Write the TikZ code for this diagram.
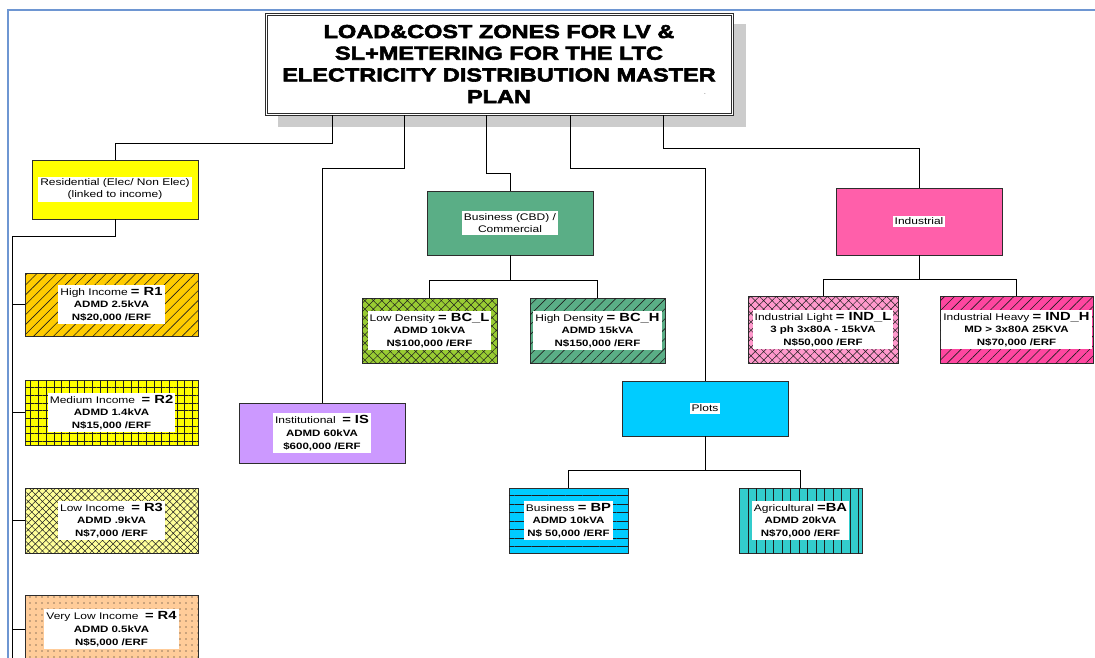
\documentclass[tikz,border=0pt]{standalone}
\usepackage{fontspec}
\setmainfont{Liberation Sans}[FakeStretch=1.25]
\newfontfamily\titlefont{Liberation Sans Bold}[FakeStretch=1.25,FakeBold=3]
\usetikzlibrary{patterns.meta}

\definecolor{frameblue}{RGB}{110,150,210}
\definecolor{boxline}{RGB}{45,45,45}
\definecolor{hatchline}{RGB}{30,30,30}
\definecolor{shadowgray}{RGB}{204,204,204}
\definecolor{resyellow}{RGB}{255,255,0}
\definecolor{highorange}{RGB}{255,204,0}
\definecolor{lowyellow}{RGB}{255,255,153}
\definecolor{vlowpeach}{RGB}{255,204,153}
\definecolor{instpurple}{RGB}{204,153,255}
\definecolor{busgreen}{RGB}{90,174,134}
\definecolor{limegreen}{RGB}{153,204,51}
\definecolor{plotcyan}{RGB}{0,204,255}
\definecolor{agriteal}{RGB}{51,204,204}
\definecolor{indpink}{RGB}{255,95,170}
\definecolor{lightpink}{RGB}{255,153,204}
\definecolor{heavypink}{RGB}{255,70,160}

\newcommand{\zhead}[2]{{\mdseries\fontsize{9.6}{12}\selectfont #1} {\fontsize{11.8}{12}\selectfont #2}}

\tikzset{
  zone/.style 2 args={draw=boxline, line width=0.9pt, inner sep=0pt,
    minimum width=#1pt, minimum height=#2pt},
  tag/.style={fill=white, inner sep=2pt, align=center,
    font=\bfseries\fontsize{9.2}{12.8}\selectfont},
  plain tag/.style={fill=white, inner sep=2pt, align=center,
    font=\fontsize{9.6}{12}\selectfont},
  link/.style={draw=black, line width=0.8pt},
  lines/.style={postaction={pattern={Lines[angle=#1,distance=7pt,line width=0.6pt]}, pattern color=hatchline}},
  fine lines/.style={postaction={pattern={Lines[angle=#1,distance=8.5pt,line width=0.9pt]}, pattern color=hatchline}},
  cross/.style={postaction={pattern={Hatch[angle=45,distance=#1,line width=0.5pt]}, pattern color=hatchline}},
  grid/.style={postaction={pattern={Hatch[angle=0,distance=7.7pt,line width=0.8pt]}, pattern color=hatchline}},
  dots/.style={postaction={pattern={Dots[distance=6pt,radius=0.55pt]}, pattern color=hatchline}}
}

\begin{document}
\begin{tikzpicture}[x=1pt,y=-1pt]
  \useasboundingbox (0,0) rectangle (1095,657);
  % outer frame
  \draw[frameblue, line width=1.5pt] (8,700) |- (1110,10);

  % title with its shadow and double frame
  \fill[shadowgray] (278,24) rectangle (746,127);
  \node[draw=boxline, line width=0.8pt, fill=white,
    minimum width=468pt, minimum height=102pt, inner sep=0pt, align=center,
    font=\titlefont\fontsize{18.8}{21.7}\selectfont] (title) at (499,64)
    {LOAD\&COST ZONES FOR LV \&\\SL+METERING FOR THE LTC\\ELECTRICITY DISTRIBUTION MASTER\\PLAN};
  \draw[boxline, line width=0.8pt] ([shift={(2.4pt,2.4pt)}]title.south west) rectangle ([shift={(-2.4pt,-2.4pt)}]title.north east);
  \node[font=\tiny] (dot) at (705,94) {.};

  % residential branch
  \node[zone={166}{59}, fill=resyellow] (res) at (115,189.5) {};
  \node[plain tag] (res-t) at (res) {Residential (Elec/ Non Elec)\\(linked to income)};
  \node[zone={173}{63}, fill=highorange, lines=45] (r1) at (111.5,304.5) {};
  \node[tag] (r1-t) at (r1) {\zhead{High Income}{= R1}\\ADMD 2.5kVA\\N\$20,000 /ERF};
  \node[zone={173}{65}, fill=resyellow, grid] (r2) at (111.5,412.5) {};
  \node[tag] (r2-t) at (r2) {\zhead{Medium Income\ }{= R2}\\ADMD 1.4kVA\\N\$15,000 /ERF};
  \node[zone={173}{65}, fill=lowyellow, cross=5pt] (r3) at (111.5,520.5) {};
  \node[tag] (r3-t) at (r3) {\zhead{Low Income\ }{= R3}\\ADMD .9kVA\\N\$7,000 /ERF};
  \node[zone={173}{68}, fill=vlowpeach, dots] (r4) at (111.5,629) {};
  \node[tag] (r4-t) at (r4) {\zhead{Very Low Income\ }{= R4}\\ADMD 0.5kVA\\N\$5,000 /ERF};
  \coordinate (rail) at (12,236);
  \coordinate (rail-end) at (12,670);

  % institutional
  \node[zone={166}{60}, fill=instpurple] (inst) at (322,433) {};
  \node[tag] (inst-t) at (inst) {\zhead{Institutional\ }{= IS}\\ADMD 60kVA\\\$600,000 /ERF};

  % business
  \node[zone={166}{64}, fill=busgreen] (bus) at (510,223) {};
  \node[plain tag] (bus-t) at (bus) {Business (CBD) /\\Commercial};
  \node[zone={135}{65}, fill=limegreen, cross=6pt] (bcl) at (429.5,330.5) {};
  \node[tag] (bcl-t) at (bcl) {\zhead{Low Density}{= BC\_L}\\ADMD 10kVA\\N\$100,000 /ERF};
  \node[zone={135}{65}, fill=busgreen, lines=45] (bch) at (597.5,330.5) {};
  \node[tag] (bch-t) at (bch) {\zhead{High Density}{= BC\_H}\\ADMD 15kVA\\N\$150,000 /ERF};

  % plots
  \node[zone={166}{55}, fill=plotcyan] (plots) at (705,408.5) {};
  \node[plain tag] (plots-t) at (plots) {Plots};
  \node[zone={119}{65}, fill=plotcyan, fine lines=0] (bp) at (568.5,520.5) {};
  \node[tag] (bp-t) at (bp) {\zhead{Business}{= BP}\\ADMD 10kVA\\N\$ 50,000 /ERF};
  \node[zone={123}{65}, fill=agriteal, fine lines=90] (ba) at (800.5,520.5) {};
  \node[tag] (ba-t) at (ba) {\zhead{Agricultural}{=BA}\\ADMD 20kVA\\N\$70,000 /ERF};

  % industrial
  \node[zone={166}{67}, fill=indpink] (ind) at (919,221.5) {};
  \node[plain tag] (ind-t) at (ind) {Industrial};
  \node[zone={150}{67}, fill=lightpink, cross=6pt] (indl) at (823,329.5) {};
  \node[tag] (indl-t) at (indl) {\zhead{Industrial Light}{= IND\_L}\\3 ph 3x80A - 15kVA\\N\$50,000 /ERF};
  \node[zone={153}{67}, fill=heavypink, lines=45] (indh) at (1016.5,329.5) {};
  \node[tag] (indh-t) at (indh) {\zhead{Industrial Heavy}{= IND\_H}\\MD > 3x80A 25KVA\\N\$70,000 /ERF};

  % connectors
  \draw[link] ([xshift=-167pt]title.south) -- ++(0,28) -| (res.north);
  \draw[link] ([xshift=-95pt]title.south) -- ++(0,53) -| (inst.north);
  \draw[link] ([xshift=-13pt]title.south) -- ++(0,58) -| (bus.north);
  \draw[link] ([xshift=71pt]title.south) -- ++(0,53) -| (plots.north);
  \draw[link] ([xshift=164pt]title.south) -- ++(0,33) -| (ind.north);
  \draw[link] (res.south) |- (rail) -- (rail-end);
  \draw[link] (r1.west) -- (r1.west -| rail);
  \draw[link] (r2.west) -- (r2.west -| rail);
  \draw[link] (r3.west) -- (r3.west -| rail);
  \draw[link] (r4.west) -- (r4.west -| rail);
  \draw[link] (bus.south) -- ++(0,25) -| (bcl.north);
  \draw[link] (bus.south) -- ++(0,25) -| (bch.north);
  \draw[link] (plots.south) -- ++(0,34) -| (bp.north);
  \draw[link] (plots.south) -- ++(0,34) -| (ba.north);
  \draw[link] (ind.south) -- ++(0,24) -| (indl.north);
  \draw[link] (ind.south) -- ++(0,24) -| (indh.north);
\end{tikzpicture}
\end{document}
